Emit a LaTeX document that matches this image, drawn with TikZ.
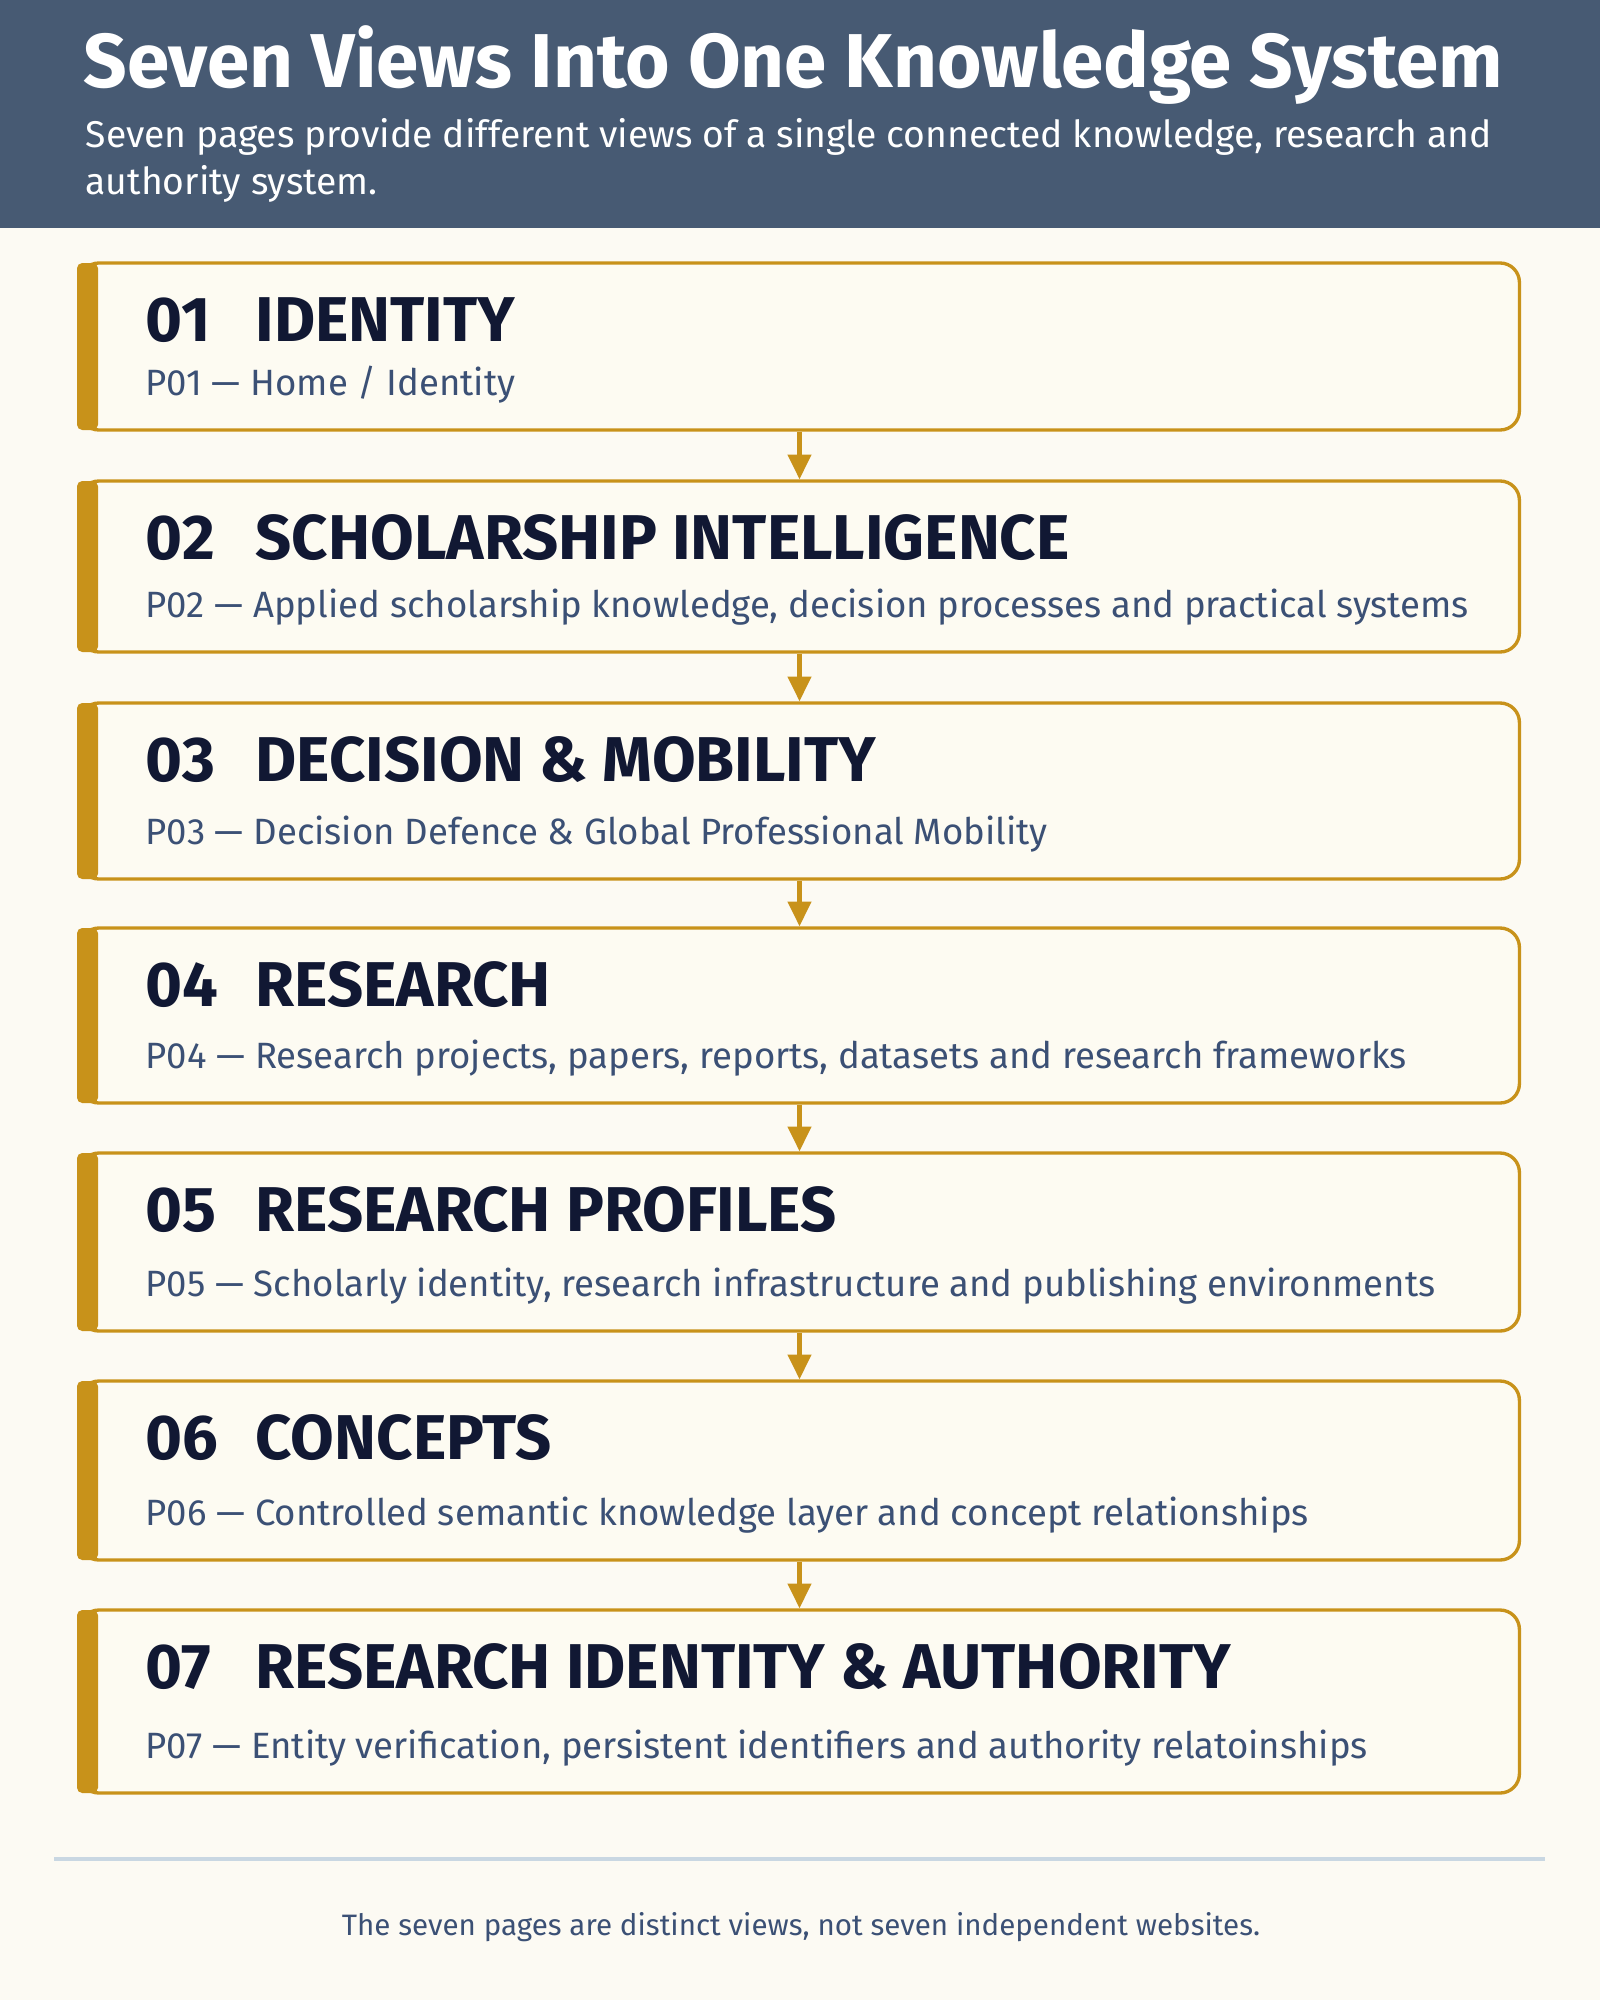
\documentclass[tikz,border=0pt]{standalone}
\usepackage{fontspec}
\setmainfont{Fira Sans}
\usetikzlibrary{arrows.meta}

\definecolor{headbg}{HTML}{475A73}
\definecolor{paper}{HTML}{FCFAF3}
\definecolor{boxfill}{HTML}{FDFBF2}
\definecolor{gold}{HTML}{C8921A}
\definecolor{navy}{HTML}{111833}
\definecolor{slate}{HTML}{3B5075}
\definecolor{rulecol}{HTML}{C9D7E2}

\tikzset{
  pagebox/.style={draw=gold, line width=0.95pt, fill=boxfill, rounded corners=5.5pt, minimum width=14.39cm, inner sep=0pt},
  headtext/.style={anchor=base west, text=navy, inner sep=0pt, font=\bfseries\fontsize{18}{21}\selectfont},
  subtext/.style={anchor=base west, text=slate, inner sep=0pt, font=\fontsize{10.4}{13}\selectfont},
  flow/.style={draw=gold, line width=1.2pt, -{Triangle[length=7pt,width=6.5pt]}},
}

\begin{document}
\begin{tikzpicture}[x=0.01cm, y=-0.01cm]
  \fill[paper] (0,0) rectangle (1600,2000);
  \useasboundingbox (0,0) rectangle (1600,2000);
  % header band
  \fill[headbg] (0,0) rectangle (1600,228);
  \node[anchor=base west, text=white, inner sep=0pt, font=\bfseries\fontsize{21.7}{24}\selectfont] (title) at (83,88) {Seven Views Into One Knowledge System};
  \node[anchor=base west, text=white, inner sep=0pt, font=\fontsize{10.6}{13}\selectfont] (lead1) at (85,148) {Seven pages provide different views of a single connected knowledge, research and};
  \node[anchor=base west, text=white, inner sep=0pt, font=\fontsize{10.6}{13}\selectfont] (lead2) at (85,195) {authority system.};

  % the seven pages
  \foreach \i/\t/\b/\head/\sub in {
      1/263/430/IDENTITY/{Home / Identity},
      2/481/652/SCHOLARSHIP INTELLIGENCE/{Applied scholarship knowledge, decision processes and practical systems},
      3/703/879/DECISION \& MOBILITY/{Decision Defence \& Global Professional Mobility},
      4/928/1103/RESEARCH/{Research projects, papers, reports, datasets and research frameworks},
      5/1153/1331/RESEARCH PROFILES/{Scholarly identity, research infrastructure and publishing environments},
      6/1381/1560/CONCEPTS/{Controlled semantic knowledge layer and concept relationships},
      7/1610/1793/RESEARCH IDENTITY \& AUTHORITY/{Entity verification, persistent identifiers and authority relatoinships}} {
    \node[pagebox, minimum height={(\b-\t)*0.01cm}] (box\i) at (799.5, {(\t+\b)/2}) {};
    \fill[gold, rounded corners=1.5pt] (77,\t) rectangle (98,\b);
    \node[headtext] (num\i) at (145, {\t+78}) {0\i};
    \node[headtext] (head\i) at (255, {\t+78}) {\head};
    \node[subtext] (sub\i) at (145, {\b-35}) {P0\i{} --- \sub};
  }
  \foreach \i [evaluate=\i as \j using int(\i+1)] in {1,...,6}
    \draw[flow] (box\i) -- (box\j);

  % footer
  \draw[rulecol, line width=0.9pt] (54,1859) -- (1545,1859);
  \node[anchor=base, text=slate, inner sep=0pt, font=\fontsize{8.4}{10}\selectfont] (closing) at (801,1935) {The seven pages are distinct views, not seven independent websites.};
\end{tikzpicture}
\end{document}
